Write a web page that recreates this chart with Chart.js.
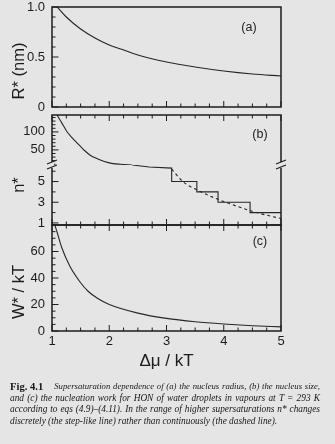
<!DOCTYPE html>
<html>
<head>
<meta charset="utf-8">
<title>Fig. 4.1</title>
<script src="https://cdn.jsdelivr.net/npm/chart.js@4.4.1/dist/chart.umd.min.js"></script>
<style>
  html, body { margin: 0; background: #e5e5e5; }
  #page { position: relative; width: 335px; height: 444px; overflow: hidden;
          font-family: "Liberation Sans", Arial, sans-serif; color: #1c1c1c; }
  .panel { position: absolute; left: 0; width: 335px; }
  .ytitle { position: absolute; font-size: 16.5px; white-space: nowrap;
            transform: translate(-50%, -50%) rotate(-90deg); }
  .tag { position: absolute; font-size: 12.5px; transform: translate(-50%, -50%); }
  .cap { position: absolute; left: 10px; width: 310px; height: 11.7px; line-height: 11.7px;
         font-family: "Liberation Serif", "Times New Roman", serif; font-size: 9.3px;
         font-style: italic; white-space: nowrap; color: #161616; }
  .cap.j { text-align: justify; text-align-last: justify; }
  .cap.first { display: flex; }
  .cap.first b { font-style: normal; font-size: 10.6px; margin-right: 11px; }
  .cap.first span { flex: 1; font-size: 8.7px; text-align: justify; text-align-last: justify; }
</style>
</head>
<body>
<div id="page">
  <div class="panel" style="top:-13px;height:140px"><canvas id="chartR"></canvas></div>
  <div class="panel" style="top:95px;height:90px"><canvas id="chartNup"></canvas></div>
  <div class="panel" style="top:145px;height:100px"><canvas id="chartNlow"></canvas></div>
  <div class="panel" style="top:205px;height:175px"><canvas id="chartW"></canvas></div>

  <div class="ytitle" style="left:18px;top:71px">R* (nm)</div>
  <div class="ytitle" style="left:18px;top:185px">n*</div>
  <div class="ytitle" style="left:18px;top:292px">W* / kT</div>

  <div class="tag" style="left:249px;top:27px">(a)</div>
  <div class="tag" style="left:260px;top:134px">(b)</div>
  <div class="tag" style="left:260px;top:241px">(c)</div>

  <div class="cap first" style="top:381px"><b>Fig. 4.1</b><span>Supersaturation dependence of (a) the nucleus radius, (b) the nucleus size,</span></div>
  <div class="cap j" style="top:392.7px">and (c) the nucleation work for HON of water droplets in vapours at T = 293 K</div>
  <div class="cap j" style="top:404.4px">according to eqs (4.9)–(4.11). In the range of higher supersaturations n* changes</div>
  <div class="cap" style="top:416.1px">discretely (the step-like line) rather than continuously (the dashed line).</div>
</div>

<script>
// supersaturation Δμ/kT on the shared x axis
const muLabels = [1, 2, 3, 4, 5];

// (a) nucleus radius, nm
const muR = [1.09, 1.25, 1.5, 1.75, 2.0, 2.2, 2.5, 3.0, 3.5, 4.0, 4.5, 5.0];
const radius = [1.00, 0.90, 0.78, 0.69, 0.62, 0.58, 0.52, 0.45, 0.40, 0.36, 0.33, 0.31];
const rLabels = [0, 0.5, 1.0];

// (b) nucleus size, upper part of the broken axis
const muNup = [1.09, 1.14, 1.2, 1.26, 1.35, 1.44, 1.55, 1.66, 1.8, 2.0, 2.2, 2.4];
const nUp = [147, 133, 117, 101, 84, 69, 51, 36, 25, 14, 10, 8];
const nUpLabels = [50, 100];

// (b) lower part: discrete steps and the continuous (dashed) curve
const muStep = [2.4, 2.7, 3.09, 3.09, 3.53, 3.53, 3.90, 3.90, 4.46, 4.46, 5.0];
const nStep = [6.6, 6.4, 6.3, 5, 5, 4, 4, 3, 3, 2, 2];
const muDash = [3.09, 3.28, 3.61, 4.02, 4.57, 5.0];
const nDash = [6.2, 5.03, 3.98, 3.03, 2.01, 1.42];
const nLowLabels = [1, 3, 5];

// (c) nucleation work, kT
const muW = [1.05, 1.1, 1.17, 1.31, 1.49, 1.63, 1.8, 2.0, 2.5, 3.0, 3.5, 4.0, 4.5, 5.0];
const work = [80, 73, 63, 49, 37, 30, 24.5, 20, 13.5, 9.5, 7, 5.3, 4, 3.1];
const wLabels = [0, 20, 40, 60];

const ink = '#1c1c1c';
const paper = '#e5e5e5';
const tickFont = { family: '"Liberation Sans", Arial, sans-serif', size: 13 };

const pts = (xs, ys) => xs.map((x, i) => ({ x, y: ys[i] }));

// evenly spaced tick marks; labels are filled in by the callbacks
function stepTicks(step) {
  return scale => {
    const out = [];
    const first = Math.ceil(scale.min / step - 1e-9);
    const last = Math.floor(scale.max / step + 1e-9);
    for (let i = first; i <= last; i++) out.push({ value: +(i * step).toFixed(6) });
    scale.ticks = out;
  };
}

// box around each panel with inward tick marks
const framePlugin = {
  id: 'frame',
  afterDatasetsDraw(chart, args, o) {
    const { ctx, chartArea: a, scales: { x, y } } = chart;
    ctx.save();
    ctx.strokeStyle = ink;
    ctx.lineWidth = 1.5;
    ctx.lineCap = 'square';
    ctx.beginPath();
    if (o.top) { ctx.moveTo(a.left, a.top); ctx.lineTo(a.right, a.top); }
    if (o.bottom) { ctx.moveTo(a.left, a.bottom); ctx.lineTo(a.right, a.bottom); }
    ctx.moveTo(a.left, a.top); ctx.lineTo(a.left, a.bottom);
    ctx.moveTo(a.right, a.top); ctx.lineTo(a.right, a.bottom);
    ctx.stroke();

    ctx.lineWidth = 1;
    ctx.lineCap = 'butt';
    ctx.beginPath();
    y.ticks.forEach(t => {
      const p = y.getPixelForValue(t.value);
      const len = t.label ? 6.5 : 3.5;
      ctx.moveTo(a.left, p); ctx.lineTo(a.left + len, p);
    });
    x.ticks.forEach(t => {
      const p = x.getPixelForValue(t.value);
      const len = muLabels.includes(t.value) ? 6 : 3.5;
      if (o.bottom) { ctx.moveTo(p, a.bottom); ctx.lineTo(p, a.bottom - len); }
      if (o.topTicks) { ctx.moveTo(p, a.top); ctx.lineTo(p, a.top + len); }
    });
    ctx.stroke();

    if (o.breakMarks) {
      [a.left, a.right].forEach(bx => {
        ctx.fillStyle = paper;
        ctx.fillRect(bx - 2, a.top - 3, 4, 6);
        ctx.lineWidth = 1.2;
        ctx.beginPath();
        ctx.moveTo(bx - 5, a.top - 1); ctx.lineTo(bx + 5, a.top - 5);
        ctx.moveTo(bx - 5, a.top + 4); ctx.lineTo(bx + 5, a.top);
        ctx.stroke();
      });
    }
    ctx.restore();
  }
};

function line(data, extra) {
  return Object.assign({
    data, borderColor: '#262626', borderWidth: 1.1, pointRadius: 0,
    cubicInterpolationMode: 'monotone', fill: false
  }, extra || {});
}

function yAxis(min, max, step, labels, fmt) {
  return {
    type: 'linear', min, max,
    afterBuildTicks: stepTicks(step),
    afterFit: s => { s.width = 52; },
    grid: { display: false, drawTicks: false }, border: { display: false },
    ticks: {
      autoSkip: false, padding: 7, color: ink, font: tickFont,
      callback: v => labels.includes(v) ? fmt(v) : ''
    }
  };
}

function panel(id, datasets, y, frame, showX) {
  return new Chart(document.getElementById(id), {
    type: 'line',
    data: { datasets },
    options: {
      responsive: true, maintainAspectRatio: false, animation: false,
      events: [],
      layout: { padding: { top: 20, bottom: showX ? 4 : 20, left: 0, right: 54 } },
      plugins: { legend: { display: false }, tooltip: { enabled: false }, frame },
      scales: {
        x: {
          type: 'linear', min: 1, max: 5,
          afterBuildTicks: stepTicks(0.25),
          afterFit: s => { s.height = showX ? 45 : 0; },
          grid: { display: false, drawTicks: false }, border: { display: false },
          ticks: {
            display: showX, autoSkip: false, maxRotation: 0, padding: 3,
            color: ink, font: tickFont,
            callback: v => muLabels.includes(v) ? String(v) : ''
          },
          title: {
            display: showX, text: 'Δμ / kT', color: ink,
            font: { family: '"Liberation Sans", Arial, sans-serif', size: 17 },
            padding: { top: 0, bottom: 4 }
          }
        },
        y
      }
    },
    plugins: [framePlugin]
  });
}

panel('chartR',
  [line(pts(muR, radius))],
  yAxis(0, 1, 0.1, rLabels, v => v === 0 ? '0' : v.toFixed(1)),
  { top: true, bottom: true }, false);

panel('chartNup',
  [line(pts(muNup, nUp))],
  yAxis(8, 147, 10, nUpLabels, v => String(v)),
  { top: true, bottom: false, topTicks: true }, false);

panel('chartNlow',
  [line(pts(muStep, nStep), { cubicInterpolationMode: 'default', tension: 0 }),
   line(pts(muDash, nDash), { borderDash: [3, 3] })],
  yAxis(0.8, 6.6, 1, nLowLabels, v => String(v)),
  { top: false, bottom: true, breakMarks: true }, false);

panel('chartW',
  [line(pts(muW, work))],
  yAxis(0, 80, 5, wLabels, v => String(v)),
  { top: true, bottom: true, topTicks: true }, true);
</script>
</body>
</html>
